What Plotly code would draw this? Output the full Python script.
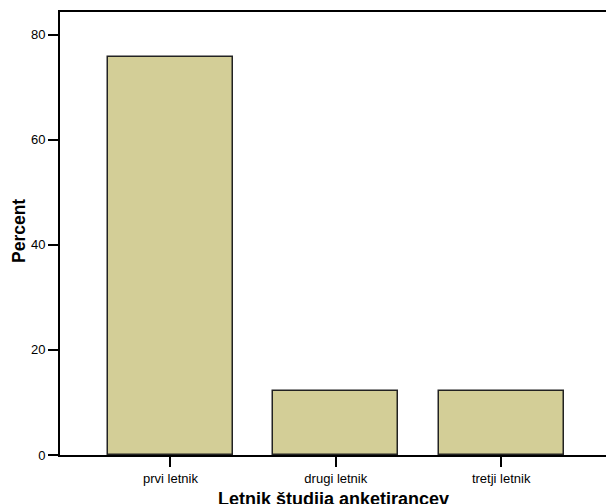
import plotly.graph_objects as go

categories = ["prvi letnik", "drugi letnik", "tretji letnik"]
percent = [75.76, 12.12, 12.12]
x_title = "Letnik študija anketirancev"
y_title = "Percent"

fig = go.Figure()
fig.add_trace(go.Bar(
    x=categories, y=percent, width=0.755,
    marker=dict(color="#D3CE97", line=dict(color="#222222", width=1.5)),
))

fig.update_layout(
    width=606, height=504,
    margin=dict(l=59.5, r=0, t=11.5, b=49),
    plot_bgcolor="white", paper_bgcolor="white",
    font=dict(family="Liberation Sans, Arial, sans-serif", color="black", size=11),
    showlegend=False,
    bargap=0,
)
fig.update_xaxes(
    automargin=False,
    range=[-0.668, 2.634],
    showline=True, linecolor="black", linewidth=2, mirror=True,
    ticks="outside", ticklen=10, tickwidth=1.5, tickcolor="black",
    tickfont=dict(size=13),
    showgrid=False, zeroline=False,
)
fig.update_yaxes(
    automargin=False,
    range=[0, 84.3],
    tickvals=[0, 20, 40, 60, 80],
    showline=True, linecolor="black", linewidth=2, mirror=False,
    ticks="outside", ticklen=10, tickwidth=1.5, tickcolor="black",
    tickfont=dict(size=13),
    showgrid=False, zeroline=False,
)

fig.add_annotation(
    text="<b>" + x_title + "</b>", xref="paper", yref="paper", x=0.5, y=0,
    xanchor="center", yanchor="middle", yshift=-44, showarrow=False,
    font=dict(size=18, color="black"),
)
fig.add_annotation(
    text="<b>" + y_title + "</b>", xref="paper", yref="paper", x=0, y=0.5,
    xanchor="center", yanchor="middle", xshift=-41.5, yshift=2, textangle=-90,
    showarrow=False, font=dict(size=17.5, color="black"),
)

fig.write_html("out.html", config={"displayModeBar": False},
               post_script="document.body.style.margin='0px';document.body.style.overflow='hidden';")
